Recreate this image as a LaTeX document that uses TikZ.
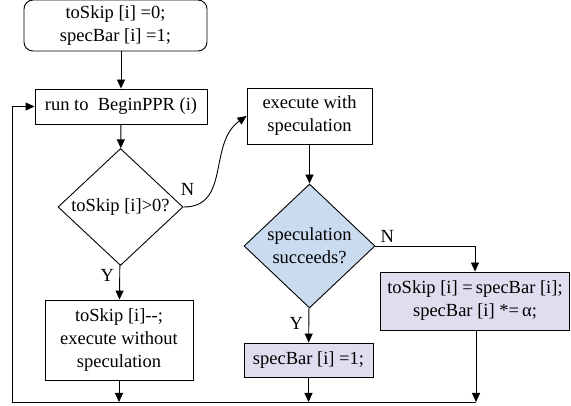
\documentclass[tikz,border=0pt]{standalone}
\usepackage{fontspec}
\setmainfont{Liberation Serif}
\newfontfamily\chartfont{Liberation Serif}
\usetikzlibrary{arrows.meta,shapes.geometric}
\definecolor{fcdecide}{HTML}{CADBEF}
\definecolor{fcupdate}{HTML}{DFDDEE}

\begin{document}
\begin{tikzpicture}[x=1pt, y=-1pt, line width=0.9pt,
    every node/.style={font=\chartfont\fontsize{18.5}{23}\selectfont, align=center},
    box/.style={draw, rectangle, inner sep=2pt},
    startbox/.style={box, rounded corners=9pt},
    decide/.style={draw, diamond, inner sep=0pt, aspect=1.07},
    arr/.style={-{Triangle[length=9pt,width=8pt]}}]
  \useasboundingbox (0,0) rectangle (571,406);
  % boxes
  \node[startbox, minimum width=183pt, minimum height=51pt] (init) at (115.5,25.5)
    {toSkip [i] =0;\\specBar [i] =1;};
  \node[box, minimum width=172pt, minimum height=35pt] (run) at (121,106.5)
    {run to\ \ BeginPPR (i)};
  \node[decide, minimum width=125pt, minimum height=117pt] (skipq) at (120.5,207)
    {toSkip [i]>0?};
  \node[box, minimum width=148pt, minimum height=80pt] (nospec) at (119,340)
    {toSkip [i]{-}{-};\\execute without\\speculation};
  \node[box, minimum width=125pt, minimum height=56pt] (spec) at (309.5,116)
    {execute with\\speculation};
  \node[decide, fill=fcdecide, minimum width=131pt, minimum height=124pt] (okq) at (309.5,246)
    {speculation\\succeeds?};
  \node[box, fill=fcupdate, minimum width=189pt, minimum height=58pt] (shrink) at (475,301)
    {toSkip [i] =\,specBar [i];\\specBar [i] *=\,α;};
  \node[box, fill=fcupdate, minimum width=129pt, minimum height=34pt] (reset) at (308.5,360)
    {specBar [i] =1;};
  \coordinate (joinl) at (12,402);
  \coordinate (joinr) at (476,402);

  % connectors
  \draw[arr] (run.north |- init.south) -- (run.north);
  \draw[arr] (run) -- (skipq);
  \draw[arr] (skipq) -- (nospec) node[pos=0.3, left=2pt] {Y};
  \draw[arr] (skipq.east) to[out=0, in=215, looseness=1.1]
    node[pos=0.03, above=8pt] {N} (spec.west);
  \draw[arr] (spec) -- (okq);
  \draw[arr] (okq) -- (reset) node[pos=0.45, left=2pt] {Y};
  \draw[arr] (okq.east) -- (okq.east -| shrink.north) node[pos=0.12, above] {N}
    -- (shrink.north);
  \draw (joinr) -- (joinl) -- (joinl |- run.west);
  \draw[arr] (joinl |- run.west) -- (run.west);
  \draw[arr] (nospec) -- (nospec |- joinl);
  \draw[arr] (reset) -- (reset |- joinl);
  \draw[arr] (shrink.south -| joinr) -- (joinr);
\end{tikzpicture}
\end{document}
